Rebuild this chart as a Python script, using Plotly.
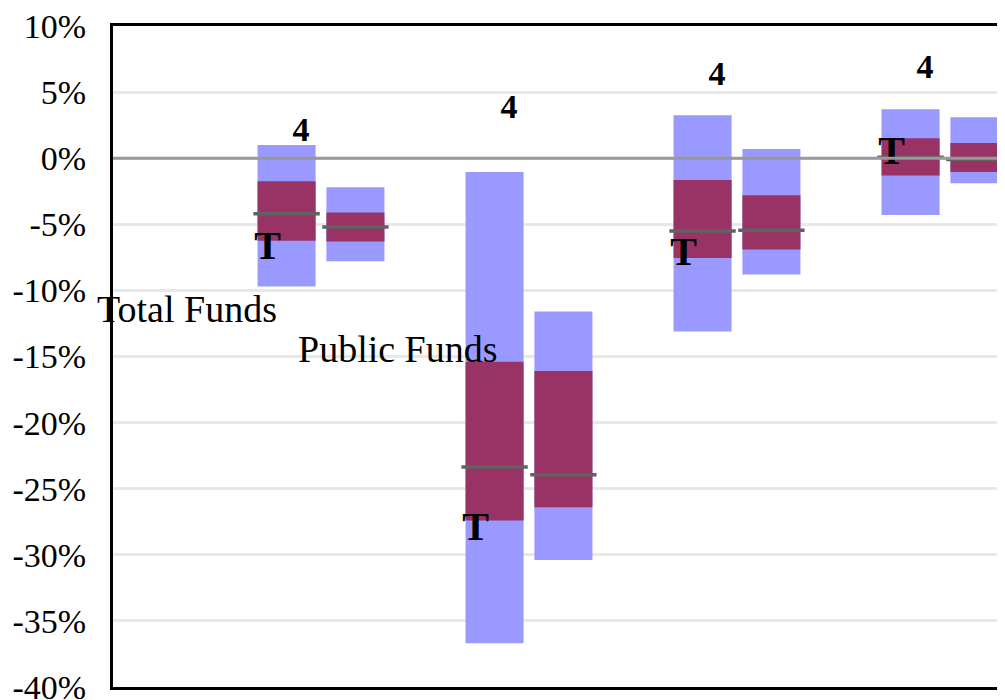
import plotly.graph_objects as go

# group positions on the category axis (one empty slot at the left)
groups = [1, 2, 3, 4]
count_labels = ["4", "4", "4", "4"]
count_label_y = [1.95, 3.7, 6.2, 6.7]

# Total Funds ranges (%)
total_low = [-9.7, -36.7, -13.1, -4.3]
total_q1 = [-6.25, -27.4, -7.55, -1.3]
total_median = [-4.2, -23.35, -5.5, 0.08]
total_q3 = [-1.75, -15.4, -1.65, 1.5]
total_high = [1.0, -1.05, 3.25, 3.7]
total_t = [-6.9, -28.1, -7.3, 0.3]

# Public Funds ranges (%)
public_low = [-7.8, -30.4, -8.8, -1.9]
public_q1 = [-6.3, -26.4, -6.9, -1.05]
public_median = [-5.2, -23.95, -5.45, -0.1]
public_q3 = [-4.1, -16.1, -2.8, 1.15]
public_high = [-2.2, -11.6, 0.7, 3.1]

y_ticks = [10, 5, 0, -5, -10, -15, -20, -25, -30, -35, -40]
y_tick_labels = ['10%', '5%', '0%', '-5%', '-10%', '-15%', '-20%', '-25%', '-30%', '-35%', '-40%']

BLUE = '#9999FF'
MAROON = '#993366'
MEDIAN = '#626262'
SERIF = 'Liberation Serif'

BAR_W = 0.279
OFF_TOTAL = -0.305
OFF_PUBLIC = 0.026

fig = go.Figure()


def add_range(low, q1, med, q3, high, off):
    fig.add_trace(go.Bar(x=groups, base=low, y=[h - l for h, l in zip(high, low)],
                         offset=off, width=BAR_W, marker=dict(color=BLUE, line=dict(width=0))))
    fig.add_trace(go.Bar(x=groups, base=q1, y=[h - l for h, l in zip(q3, q1)],
                         offset=off, width=BAR_W, marker=dict(color=MAROON, line=dict(width=0))))
    xs, ys = [], []
    for g, m in zip(groups, med):
        xs += [g + off - 0.02, g + off + BAR_W + 0.02, None]
        ys += [m, m, None]
    fig.add_trace(go.Scatter(x=xs, y=ys, mode='lines', line=dict(color=MEDIAN, width=3.5)))


add_range(total_low, total_q1, total_median, total_q3, total_high, OFF_TOTAL)
add_range(public_low, public_q1, public_median, public_q3, public_high, OFF_PUBLIC)

fig.add_trace(go.Scatter(x=[g - 0.257 for g in groups], y=total_t, mode='text',
                         text=['<b>T</b>'] * len(groups), textposition='middle center',
                         textfont=dict(family=SERIF, size=40, color='black')))
fig.add_trace(go.Scatter(x=[g - 0.096 for g in groups], y=count_label_y, mode='text',
                         text=['<b>%s</b>' % c for c in count_labels], textposition='middle center',
                         textfont=dict(family=SERIF, size=34, color='black')))

fig.add_annotation(x=0.358, y=-11.4, text='Total Funds', showarrow=False,
                   font=dict(family=SERIF, size=38, color='black'))
fig.add_annotation(x=1.37, y=-14.4, text='Public Funds', showarrow=False,
                   font=dict(family=SERIF, size=38, color='black'))

fig.add_shape(type='line', xref='paper', x0=0, x1=1, yref='y', y0=0, y1=0,
              line=dict(color='#999999', width=3), layer='above')

# the page body has an 8px margin, so the figure is offset to line up with the window
fig.update_layout(
    width=997, height=700,
    margin=dict(l=105, r=0, t=18, b=21),
    font=dict(family=SERIF, color='black'),
    barmode='overlay', showlegend=False,
    plot_bgcolor='white', paper_bgcolor='white',
    xaxis=dict(range=[0, 892 / 208], showticklabels=False, showgrid=False, zeroline=False,
               showline=True, linecolor='black', linewidth=3, mirror=True, ticks=''),
    yaxis=dict(range=[-40, 10], tickvals=y_ticks, ticktext=y_tick_labels, showgrid=True,
               gridcolor='#e8e8e8', gridwidth=3, zeroline=False, showline=True,
               linecolor='black', linewidth=3, ticks='', ticklabelstandoff=17,
               ticklabeloverflow='allow',
               tickfont=dict(family=SERIF, size=34, color='black')),
)

fig.write_html("out.html")
